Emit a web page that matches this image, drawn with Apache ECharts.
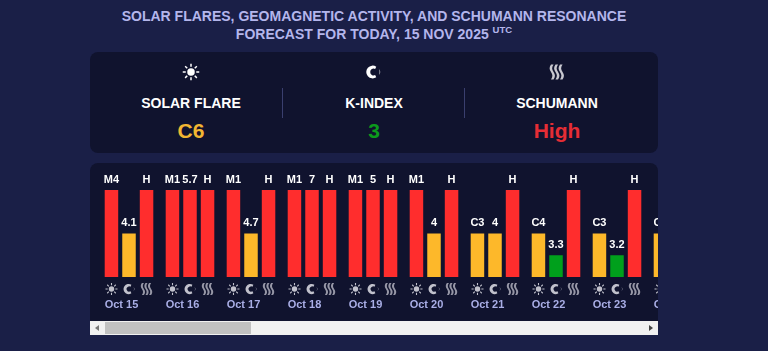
<!DOCTYPE html>
<html>
<head>
<meta charset="utf-8">
<title>Solar forecast</title>
<script src="https://cdn.jsdelivr.net/npm/echarts@6/dist/echarts.min.js"></script>
<style>
  html, body { margin: 0; padding: 0; width: 768px; height: 351px; overflow: hidden; background: #1a1f47; }
  body, div { font-family: "Liberation Sans", Arial, sans-serif; font-weight: bold; box-sizing: border-box; }
  .title { position: absolute; left: 0; top: 7px; width: 748px; text-align: center; color: #b4b6ec; font-size: 14px; line-height: 18px; }
  .title sup { font-size: 9.5px; line-height: 0; vertical-align: 6px; }
  .card { position: absolute; left: 90px; top: 52px; width: 568px; height: 101px; background: #10132e; border-radius: 8px; }
  .col { position: absolute; top: 0; width: 180px; text-align: center; color: #fff; }
  .col svg { position: absolute; left: 81px; top: 11px; width: 18px; height: 18px; fill: #fff; }
  .col .name { position: absolute; top: 43px; width: 100%; font-size: 14px; line-height: 16px; }
  .col .val { position: absolute; top: 67px; width: 100%; font-size: 21px; line-height: 24px; }
  .sep { position: absolute; top: 36px; width: 1px; height: 30px; background: #3a3f6e; }
  .panel { position: absolute; left: 90px; top: 163px; width: 568px; height: 158px; background: #10132e; border-radius: 8px 8px 0 0; overflow: hidden; }
  #chart { position: absolute; left: 0; top: 0; width: 640px; height: 158px; }
  .bar { position: absolute; left: 90px; top: 321px; width: 568px; height: 14px; background: #f1f1f1; }
  .thumb { position: absolute; left: 15px; top: 1px; width: 146px; height: 12px; background: #c1c1c1; }
  .arr { position: absolute; top: 4px; width: 0; height: 0; border-top: 3px solid transparent; border-bottom: 3px solid transparent; }
</style>
</head>
<body>
<div class="title">SOLAR FLARES, GEOMAGNETIC ACTIVITY, AND SCHUMANN RESONANCE<br>FORECAST FOR TODAY, 15 NOV 2025 <sup>UTC</sup></div>
<div class="card" id="card">
  <div class="sep" style="left:192px"></div>
  <div class="sep" style="left:374px"></div>
</div>
<div class="panel"><div id="chart"></div></div>
<div class="bar">
  <div class="arr" style="left:5px;border-right:4px solid #777"></div>
  <div class="thumb"></div>
  <div class="arr" style="right:5px;border-left:4px solid #444"></div>
</div>
<script>
const categories = ['Oct 15', 'Oct 16', 'Oct 17', 'Oct 18', 'Oct 19', 'Oct 20', 'Oct 21', 'Oct 22', 'Oct 23', 'Oct 24'];
// bar heights: 1 green, 2 amber, 4 red
const flareLevels = [4, 4, 4, 4, 4, 4, 2, 2, 2, 2];
const kLevels = [2, 4, 2, 4, 4, 2, 2, 1, 1, null];
const schumannLevels = [4, 4, 4, 4, 4, 4, 4, 4, 4, null];
const flareLabels = ['M4', 'M1', 'M1', 'M1', 'M1', 'M1', 'C3', 'C4', 'C3', 'C3'];
const kLabels = ['4.1', '5.7', '4.7', '7', '5', '4', '4', '3.3', '3.2', ''];
const schumannLabels = ['H', 'H', 'H', 'H', 'H', 'H', 'H', 'H', 'H', ''];
const summaryNames = ['SOLAR FLARE', 'K-INDEX', 'SCHUMANN'];
const summaryValues = ['C6', '3', 'High'];
const summaryColors = ['#f2b632', '#0c9a1c', '#e52d35'];

const levelColors = { 1: '#00a01c', 2: '#fdb82a', 4: '#ff2d2d' };

// icons, drawn on a 24 box
const sunPath = 'M12 7a5 5 0 1 0 0 10a5 5 0 1 0 0-10z M11 1h2v4h-2z M11 19h2v4h-2z M1 11h4v2H1z M19 11h4v2h-4z ' +
  'M3.5 4.9L4.9 3.5L7.7 6.3L6.3 7.7z M20.5 4.9L19.1 3.5L16.3 6.3L17.7 7.7z ' +
  'M3.5 19.1L4.9 20.5L7.7 17.7L6.3 16.3z M20.5 19.1L19.1 20.5L16.3 17.7L17.7 16.3z';
const moonPath = 'M15 5A8.5 8.5 0 1 0 15 19L13.5 16A4.5 4.5 0 1 1 13.5 8z M19 8Q21.5 12 19 16Q20 12 19 8z';
const waveStrip = x => `M${x} 2C${x - 2.5} 6 ${x - 2.5} 8 ${x} 12C${x + 2.5} 16 ${x + 2.5} 18 ${x} 22h3.4C${x + 5.9} 18 ${x + 5.9} 16 ${x + 3.4} 12C${x + 0.9} 8 ${x + 0.9} 6 ${x + 3.4} 2z`;
const wavePath = waveStrip(4) + ' ' + waveStrip(10) + ' ' + waveStrip(16);
const icons = [sunPath, moonPath, wavePath];

const card = document.getElementById('card');
[11, 194, 377].forEach((left, i) => {
  const col = document.createElement('div');
  col.className = 'col';
  col.style.left = left + 'px';
  col.innerHTML = `<svg viewBox="0 0 24 24"><path d="${icons[i]}" ${i === 2 ? 'fill="#c8c8d0"' : ''}/></svg>` +
    `<div class="name">${summaryNames[i]}</div>` +
    `<div class="val" style="color:${summaryColors[i]}">${summaryValues[i]}</div>`;
  card.appendChild(col);
});

function barSeries (levels, labels) {
  return {
    type: 'bar',
    barWidth: 13.5,
    barGap: '30%',
    silent: true,
    data: levels.map(v => ({ value: v, itemStyle: { color: levelColors[v] } })),
    label: {
      show: true,
      position: 'top',
      distance: 5,
      color: '#fff',
      fontSize: 11,
      fontWeight: 'bold',
      fontFamily: '"Liberation Sans", Arial, sans-serif',
      formatter: params => labels[params.dataIndex]
    }
  };
}

function iconSeries (path, offsetX, size, color) {
  return {
    type: 'scatter',
    silent: true,
    clip: false,
    symbol: 'path://' + path,
    symbolKeepAspect: true,
    symbolSize: size,
    symbolOffset: [offsetX, 12],
    itemStyle: { color: color },
    data: categories.map(() => 0)
  };
}

const chart = echarts.init(document.getElementById('chart'));
chart.setOption({
  animation: false,
  backgroundColor: 'transparent',
  grid: { left: 8.5, top: 27, width: 610, height: 87 },
  xAxis: {
    type: 'category',
    data: categories,
    axisLine: { show: false },
    axisTick: { show: false },
    axisLabel: {
      interval: 0,
      margin: 22,
      padding: [0, 15, 0, 0],
      color: '#a9aee6',
      fontSize: 11,
      fontWeight: 'bold',
      fontFamily: '"Liberation Sans", Arial, sans-serif'
    }
  },
  yAxis: { type: 'value', min: 0, max: 4, show: false },
  series: [
    barSeries(flareLevels, flareLabels),
    barSeries(kLevels, kLabels),
    barSeries(schumannLevels, schumannLabels),
    iconSeries(sunPath, -17.5, 12, '#eeeef4'),
    iconSeries(moonPath, 0, 11, '#eeeef4'),
    iconSeries(wavePath, 17.5, 12, '#b8b8c4')
  ]
});
</script>
</body>
</html>
